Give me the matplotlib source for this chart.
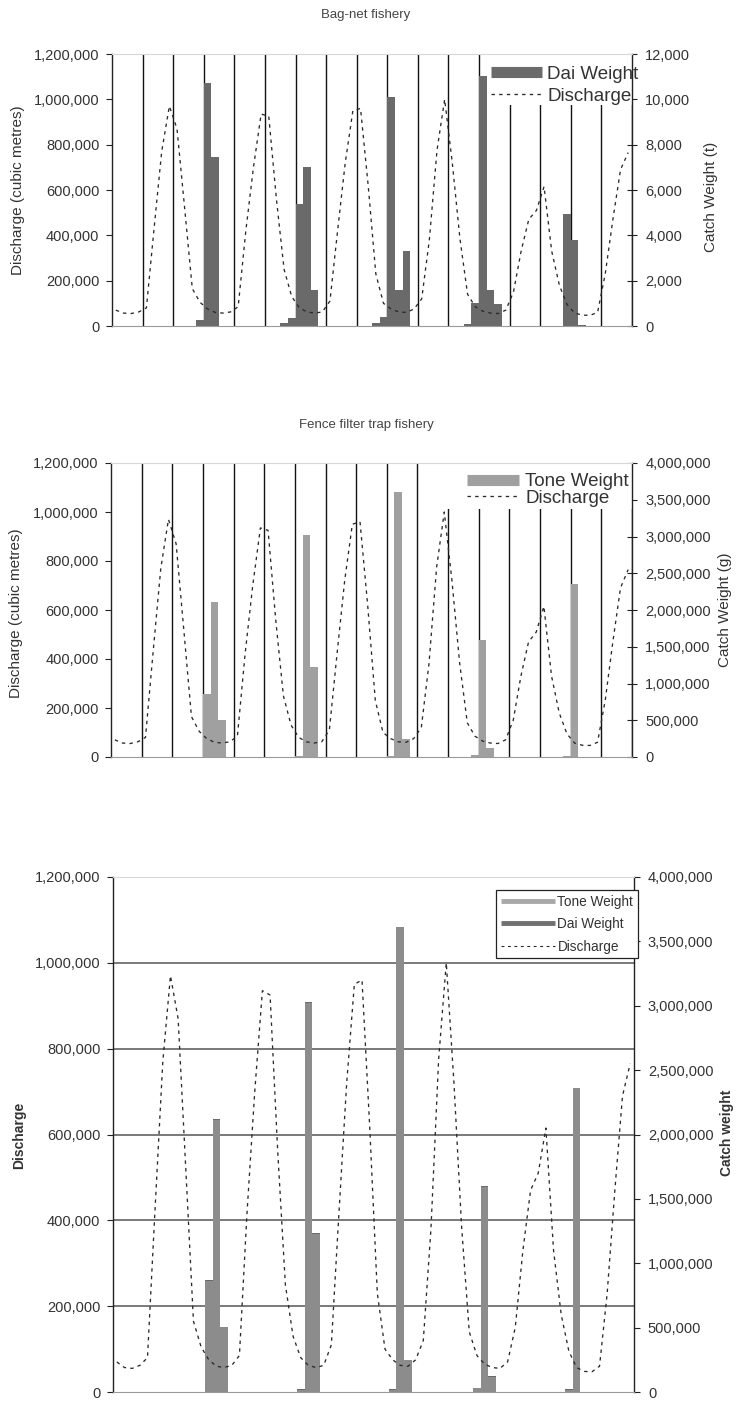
import matplotlib
matplotlib.use('Agg')
import matplotlib.pyplot as plt
import numpy as np
from matplotlib.lines import Line2D
from matplotlib.patches import Rectangle
from matplotlib.ticker import FuncFormatter
from matplotlib.transforms import blended_transform_factory

plt.rcParams['font.family'] = ['Liberation Sans', 'DejaVu Sans']

# ---------------- data ----------------
n_months = 68
discharge = [
    70000, 57000, 55000, 62000, 80000, 430000, 770000, 970000, 870000, 520000, 165000, 105000,
    75000, 60000, 57000, 62000, 85000, 420000, 700000, 935000, 925000, 560000, 250000, 130000,
    80000, 62000, 57000, 62000, 110000, 420000, 720000, 950000, 960000, 620000, 230000, 100000,
    75000, 62000, 60000, 75000, 120000, 380000, 775000, 1000000, 720000, 385000, 140000, 85000,
    65000, 57000, 55000, 70000, 150000, 330000, 470000, 510000, 615000, 330000, 180000, 95000,
    57000, 48000, 47000, 60000, 230000, 470000, 690000, 765000,
]
dai_months = [11, 12, 13, 22, 23, 24, 25, 26, 34, 35, 36, 37, 38, 46, 47, 48, 49, 50, 59, 60, 61]
dai_weight = [270, 10700, 7440, 120, 340, 5380, 7000, 1590, 150, 380, 10100, 1590, 3320,
              80, 1000, 11050, 1600, 950, 4950, 3800, 60]
tone_months = [12, 13, 14, 24, 25, 26, 36, 37, 38, 47, 48, 49, 59, 60]
tone_weight = [860000, 2110000, 505000, 15000, 3020000, 1230000, 15000, 3610000, 245000,
               30000, 1590000, 120000, 15000, 2360000]
discharge_ticks = [0, 200000, 400000, 600000, 800000, 1000000, 1200000]
dai_ticks = [0, 2000, 4000, 6000, 8000, 10000, 12000]
tone_ticks = [0, 500000, 1000000, 1500000, 2000000, 2500000, 3000000, 3500000, 4000000]
grid_months = list(range(4, 69, 4))

# ---------------- style ----------------
W, H = 736, 1401
DAI_C = '#6a6a6a'
TONE_C = '#a0a0a0'
BOT_C = '#8c8c8c'
TXT = '#333333'
DASH = (0, (2.6, 3.2))
LINE_C = '#2a2a2a'

fig = plt.figure(figsize=(W / 100, H / 100), dpi=100)
fmt = FuncFormatter(lambda v, p: f'{int(round(v)):,}')


def rect(l, r, t, b):
    return [l / W, 1 - b / H, (r - l) / W, (b - t) / H]


def make_panel(box, wmax, wticks):
    ax = fig.add_axes(rect(*box))
    ax2 = ax.twinx()
    ax.set_xlim(0, n_months)
    ax.set_ylim(0, discharge_ticks[-1])
    ax2.set_ylim(0, wmax)
    ax.set_yticks(discharge_ticks)
    ax2.set_yticks(wticks)
    ax.yaxis.set_major_formatter(fmt)
    ax2.yaxis.set_major_formatter(fmt)
    ax.set_xticks([])
    ax.tick_params(axis='y', direction='out', length=4, width=0.8, pad=5,
                   labelsize=10.5, labelcolor=TXT, color='#222222')
    ax2.tick_params(axis='y', direction='inout', length=7, width=0.8, pad=6,
                    labelsize=10.5, labelcolor=TXT, color='#222222')
    for s in ax.spines.values():
        s.set_visible(False)
    ax2.spines['left'].set_color('#222222')
    ax2.spines['right'].set_color('#222222')
    ax2.spines['left'].set_linewidth(1.0)
    ax2.spines['right'].set_linewidth(1.0)
    ax2.spines['top'].set_color('#d8d8d8')
    ax2.spines['bottom'].set_color('#9a9a9a')
    for s in ax2.spines.values():
        s.set_zorder(5)
    ax2.set_zorder(ax.get_zorder() + 1)
    ax2.patch.set_visible(False)
    return ax, ax2


x = np.arange(n_months) + 0.5
month_pos = {m: m + 0.5 for m in range(n_months)}


def draw_discharge(ax, ax2):
    ax2.plot(x, discharge, transform=ax.transData, color=LINE_C, lw=0.95,
             linestyle=DASH, zorder=4)


def vgrid(ax2):
    for g in grid_months:
        ax2.axvline(g, color='#111111', lw=1.0, zorder=1)


def white_box(ax2, l, r, t, b):
    ax2.add_patch(Rectangle((l / W, 1 - b / H), (r - l) / W, (b - t) / H,
                            transform=fig.transFigure, facecolor='white',
                            edgecolor='none', zorder=2.8, clip_on=False))


def style_legend(leg, z=3):
    for t in leg.get_texts():
        t.set_color(TXT)
    leg.set_zorder(z)


# ---------------- top panel: bag-net ----------------
ax, ax2 = make_panel((112, 632, 54, 326), dai_ticks[-1], dai_ticks)
vgrid(ax2)
ax2.bar([month_pos[m] for m in dai_months], dai_weight, width=1.0, color=DAI_C,
        linewidth=0, zorder=2)
draw_discharge(ax, ax2)
white_box(ax2, 487, 632, 54, 105)
leg = ax2.legend([Line2D([], [], color=DAI_C, lw=8, solid_capstyle='butt'),
                  Line2D([], [], color=LINE_C, lw=0.95, linestyle=DASH)],
                 ['Dai Weight', 'Discharge'], loc='upper right',
                 bbox_to_anchor=(647 / W, 1 - 57 / H), bbox_transform=fig.transFigure,
                 fontsize=13.5, handlelength=2.75, handletextpad=0.27, labelspacing=0.28,
                 borderpad=0.45, borderaxespad=0, frameon=False)
style_legend(leg)
fig.text(366 / W, 1 - 15 / H, 'Bag-net fishery', ha='center', va='center',
         fontsize=9.5, color='#444444')
fig.text(18 / W, 1 - 190 / H, 'Discharge (cubic metres)', rotation=90, ha='center',
         va='center', fontsize=11, color=TXT)
fig.text(711 / W, 1 - 197 / H, 'Catch Weight (t)', rotation=90, ha='center',
         va='center', fontsize=11, color=TXT)

# ---------------- middle panel: fence filter trap ----------------
ax, ax2 = make_panel((111, 632, 463, 757), tone_ticks[-1], tone_ticks)
vgrid(ax2)
ax2.bar([month_pos[m] for m in tone_months], tone_weight, width=1.0, color=TONE_C,
        linewidth=0, zorder=2)
draw_discharge(ax, ax2)
white_box(ax2, 440, 632, 463, 509)
leg = ax2.legend([Line2D([], [], color=TONE_C, lw=8, solid_capstyle='butt'),
                  Line2D([], [], color=LINE_C, lw=0.95, linestyle=DASH)],
                 ['Tone Weight', 'Discharge'], loc='upper right',
                 bbox_to_anchor=(639 / W, 1 - 463 / H), bbox_transform=fig.transFigure,
                 fontsize=13.5, handlelength=2.75, handletextpad=0.35, labelspacing=-0.03,
                 borderpad=0.55, borderaxespad=0, frameon=False)
style_legend(leg)
fig.text(366 / W, 1 - 425 / H, 'Fence filter trap fishery', ha='center', va='center',
         fontsize=9.5, color='#444444')
fig.text(16 / W, 1 - 613 / H, 'Discharge (cubic metres)', rotation=90, ha='center',
         va='center', fontsize=11, color=TXT)
fig.text(725 / W, 1 - 610 / H, 'Catch Weight (g)', rotation=90, ha='center',
         va='center', fontsize=11, color=TXT)

# ---------------- bottom panel: combined ----------------
ax, ax2 = make_panel((113, 634, 877, 1392), tone_ticks[-1], tone_ticks)
ax2.tick_params(axis='y', direction='out', length=4)
blend = blended_transform_factory(ax2.transAxes, ax.transData)
for v in discharge_ticks[1:-1]:
    ax2.plot([0, 1], [v, v], transform=blend, color='#555555', lw=1.1, zorder=1)
ax2.bar([month_pos[m] for m in tone_months], tone_weight, width=1.0, color=BOT_C,
        linewidth=0, zorder=2)
tone_full = np.zeros(n_months)
tone_full[tone_months] = tone_weight
ax2.bar([month_pos[m] for m in dai_months], dai_weight, width=1.0,
        bottom=tone_full[dai_months], color='#6a6a6a', linewidth=0, zorder=2)
draw_discharge(ax, ax2)
leg = ax2.legend([Line2D([], [], color='#a8a8a8', lw=3.5, solid_capstyle='butt'),
                  Line2D([], [], color='#707070', lw=3.5, solid_capstyle='butt'),
                  Line2D([], [], color=LINE_C, lw=0.8, linestyle=DASH)],
                 ['Tone Weight', 'Dai Weight', 'Discharge'], loc='upper right',
                 bbox_to_anchor=(638 / W, 1 - 890 / H), bbox_transform=fig.transFigure,
                 fontsize=9.8, handlelength=4.0, handletextpad=0.15, labelspacing=0.62,
                 borderpad=0.35, borderaxespad=0, frameon=True, fancybox=False,
                 framealpha=1, facecolor='white', edgecolor='#222222')
leg.get_frame().set_linewidth(0.9)
style_legend(leg, z=10)
fig.text(19 / W, 1 - 1135 / H, 'Discharge', rotation=90, ha='center', va='center',
         fontsize=10, fontweight='bold', color=TXT)
fig.text(727 / W, 1 - 1133 / H, 'Catch weight', rotation=90, ha='center', va='center',
         fontsize=10, fontweight='bold', color=TXT)

fig.savefig('out.png', dpi=100)
